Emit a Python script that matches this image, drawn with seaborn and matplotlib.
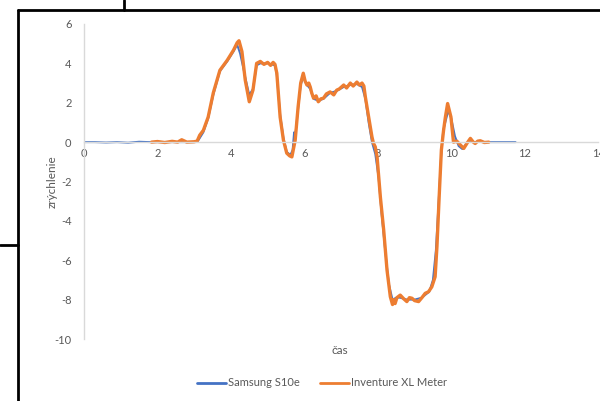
import matplotlib
matplotlib.use("Agg")
import matplotlib.pyplot as plt
from matplotlib.lines import Line2D
import seaborn as sns

# Samsung S10e (blue)
samsung_t = [0, 0.3, 0.6, 0.9, 1.2, 1.5, 1.8, 2.1, 2.4, 2.7,
             3.0, 3.1, 3.25, 3.38, 3.52, 3.7, 3.9, 4.07, 4.17, 4.25,
             4.39, 4.5, 4.6, 4.7, 4.8, 5.0, 5.2, 5.25, 5.34, 5.43,
             5.52, 5.62, 5.68, 5.72, 5.75, 5.83, 5.9, 5.97, 6.07, 6.16,
             6.25, 6.38, 6.52, 6.7, 6.88, 7.07, 7.25, 7.43, 7.57, 7.66,
             7.75, 7.84, 7.93, 8.02, 8.1, 8.2, 8.3, 8.4, 8.5, 8.6,
             8.8, 9.0, 9.2, 9.4, 9.5, 9.58, 9.65, 9.72, 9.78, 9.85,
             9.92, 10.0, 10.1, 10.2, 10.3, 10.4, 10.5, 10.6, 10.8, 11.0,
             11.3, 11.75]
samsung_a = [0, 0.0, -0.02, 0.0, -0.03, 0.02, 0.0, 0.0, 0.0, 0.0,
             0.0, 0.05, 0.5, 1.2, 2.4, 3.6, 4.1, 4.6, 4.95, 4.5,
             3.3, 2.4, 2.7, 3.9, 4.0, 4.0, 3.9, 3.4, 1.4, 0.2,
             -0.5, -0.65, -0.4, 0.5, 0.3, 1.7, 2.9, 3.3, 2.9, 2.7,
             2.2, 2.1, 2.2, 2.5, 2.6, 2.8, 2.9, 2.95, 2.8, 2.2,
             1.0, 0.0, -0.6, -1.8, -3.6, -5.5, -7.2, -8.0, -7.9, -7.9,
             -8.0, -8.0, -7.9, -7.6, -7.0, -5.5, -3.2, -0.8, 0.6, 1.1,
             1.6, 1.2, 0.3, -0.2, -0.35, -0.1, 0.1, 0.0, 0.02, 0.0,
             0.0, 0.0]

# Inventure XL Meter (orange)
inventure_t = [1.84, 2.0, 2.2, 2.4, 2.55, 2.66, 2.8, 3.0, 3.08, 3.15,
               3.25, 3.38, 3.52, 3.7, 3.9, 4.07, 4.17, 4.22, 4.3, 4.39,
               4.5, 4.6, 4.7, 4.8, 4.9, 5.0, 5.08, 5.15, 5.2, 5.25,
               5.34, 5.43, 5.52, 5.6, 5.66, 5.75, 5.83, 5.9, 5.97, 6.02,
               6.07, 6.12, 6.16, 6.2, 6.25, 6.32, 6.38, 6.45, 6.52, 6.6,
               6.7, 6.8, 6.88, 6.95, 7.07, 7.15, 7.25, 7.33, 7.43, 7.5,
               7.57, 7.62, 7.66, 7.75, 7.84, 7.88, 7.93, 7.98, 8.07, 8.16,
               8.25, 8.34, 8.4, 8.43, 8.47, 8.52, 8.61, 8.7, 8.79, 8.86,
               8.93, 9.0, 9.11, 9.2, 9.29, 9.38, 9.47, 9.56, 9.61, 9.67,
               9.73, 9.79, 9.84, 9.9, 9.99, 10.06, 10.15, 10.25, 10.34, 10.43,
               10.52, 10.6, 10.65, 10.72, 10.79, 10.9, 11.02]
inventure_a = [0, 0.03, -0.02, 0.04, 0.0, 0.12, 0.0, 0.02, 0.05, 0.35,
               0.6, 1.27, 2.5, 3.65, 4.16, 4.67, 5.05, 5.15, 4.6, 3.15,
               2.05, 2.64, 4.0, 4.1, 3.95, 4.05, 3.9, 4.05, 3.95, 3.5,
               1.27, 0.1, -0.56, -0.7, -0.75, 0.1, 1.8, 3.0, 3.5, 3.1,
               2.9, 3.0, 2.8, 2.5, 2.23, 2.35, 2.05, 2.2, 2.23, 2.45,
               2.55, 2.4, 2.64, 2.7, 2.9, 2.75, 3.0, 2.85, 3.05, 2.9,
               3.0, 2.85, 2.3, 1.28, 0.27, -0.05, -0.24, -0.75, -2.8, -4.47,
               -6.5, -7.85, -8.25, -8.0, -8.2, -7.9, -7.77, -7.95, -8.1, -7.9,
               -7.93, -8.05, -8.1, -7.9, -7.68, -7.6, -7.35, -6.84, -5.3, -2.78,
               -0.4, 0.6, 1.28, 1.96, 1.28, 0.0, 0.05, -0.15, -0.32, -0.05,
               0.19, 0.0, -0.07, 0.05, 0.07, -0.02, 0.0]

x_ticks = [0, 2, 4, 6, 8, 10, 12, 14]
y_ticks = [-10, -8, -6, -4, -2, 0, 2, 4, 6]

blue = "#4472C4"
orange = "#ED7D31"
grey_txt = "#595959"
grey_line = "#D9D9D9"

sns.set_style("white")
plt.rcParams["font.family"] = ["Lato", "DejaVu Sans"]
plt.rcParams["axes.unicode_minus"] = False

fig = plt.figure(figsize=(6, 4.01), dpi=100)
ax = fig.add_axes([0.14, 1 - 339 / 401, 0.997 - 0.14, (339 - 24) / 401])

sns.lineplot(x=samsung_t, y=samsung_a, ax=ax, color=blue, linewidth=1.4, sort=False)
sns.lineplot(x=inventure_t, y=inventure_a, ax=ax, color=orange, linewidth=2.4, sort=False)

ax.set_xlim(0, 14)
ax.set_ylim(-10, 6)
ax.set_xticks(x_ticks)
ax.set_yticks(y_ticks)
ax.tick_params(length=0, labelsize=8, labelcolor=grey_txt)
ax.tick_params(axis="y", pad=9)
ax.tick_params(axis="x", pad=4)

for s in ["top", "right"]:
    ax.spines[s].set_visible(False)
ax.spines["bottom"].set_position(("data", 0))
ax.spines["bottom"].set_color(grey_line)
ax.spines["left"].set_color(grey_line)
ax.spines["bottom"].set_linewidth(1.0)
ax.spines["left"].set_linewidth(1.0)

ax.set_ylabel("zrýchlenie", color=grey_txt, fontsize=8.5)
ax.yaxis.set_label_coords((58 - 84) / 514, 0.5)
ax.set_xlabel("")
fig.text(340 / 600, 1 - 350 / 401, "čas", color=grey_txt, fontsize=8.5,
         ha="center", va="center")

handles = [Line2D([], [], color=blue, linewidth=2),
           Line2D([], [], color=orange, linewidth=2)]
fig.legend(handles, ["Samsung S10e", "Inventure XL Meter"], loc="center",
           bbox_to_anchor=(322 / 600, 1 - 383 / 401), ncol=2, frameon=False,
           fontsize=8, labelcolor=grey_txt, handlelength=2.6, handletextpad=0.2,
           columnspacing=1.8)

# document frame around the chart
frame = dict(color="black", linewidth=2, transform=fig.transFigure, clip_on=False)
fig.add_artist(Line2D([18 / 600, 1], [1 - 10 / 401, 1 - 10 / 401], **frame))
fig.add_artist(Line2D([18 / 600, 18 / 600], [0, 1 - 10 / 401], **frame))
fig.add_artist(Line2D([124 / 600, 124 / 600], [1 - 10 / 401, 1], **frame))
fig.add_artist(Line2D([0, 18 / 600], [1 - 245 / 401, 1 - 245 / 401], **frame))

fig.savefig("out.png", dpi=100)
